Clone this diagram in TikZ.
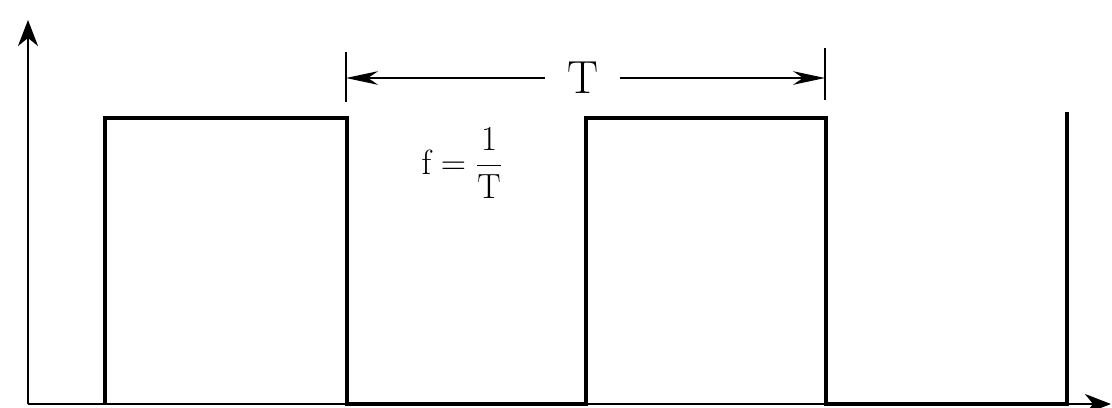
\documentclass[tikz,border=0pt]{standalone}
\usepackage{amsmath}
\usetikzlibrary{arrows.meta}

\begin{document}
\begin{tikzpicture}[x=0.25mm, y=-0.25mm,
    axisline/.style={line width=1.8pt, -{Stealth[length=6.5mm, width=5mm, inset=2mm]}},
    wave/.style={line width=2.6pt, line join=miter},
    dimline/.style={line width=1.2pt, -{Stealth[length=8mm, width=3.4mm, inset=2.5mm]}},
    tickline/.style={line width=1.2pt},
    lbl/.style={inner sep=1pt, font=\fontsize{33}{40}\selectfont}]
    \useasboundingbox (0,0) rectangle (1112,407);
    % axes
    \coordinate (o) at (28,404);
    \coordinate (ytop) at (28,20);
    \coordinate (xend) at (1111,404);
    \draw[axisline] (o) -- (ytop);
    \draw[axisline] (o) -- (xend);
    % square wave
    \coordinate (r1) at (105,404);
    \coordinate (f1) at (347,404);
    \coordinate (r2) at (586,404);
    \coordinate (f2) at (826,404);
    \coordinate (r3) at (1067,404);
    \draw[wave] (r1) -- ++(0,-286) -| (f1) -- (r2) -- ++(0,-286) -| (f2) -- (r3) -- ++(0,-292);
    % period marker
    \coordinate (ta) at (346,52);
    \coordinate (tb) at (825,48);
    \draw[tickline] (ta) -- ++(0,50);
    \draw[tickline] (tb) -- ++(0,52);
    \node[lbl] (per) at (583,78) {T};
    \draw[dimline] (545,78) -- (ta |- 0,78);
    \draw[dimline] (620,78) -- (tb |- 0,78);
    \node[lbl, font=\fontsize{34}{40}\selectfont] (freq) at (462,163) {$\mathrm{f} = \dfrac{1}{\mathrm{T}}$};
\end{tikzpicture}
\end{document}
